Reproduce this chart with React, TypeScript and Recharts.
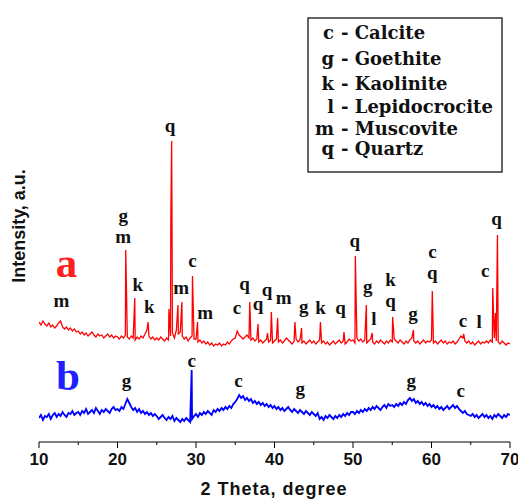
import { ComposedChart, Line, Scatter, XAxis, YAxis } from "recharts";

const SANS = '"Liberation Sans", Arial, sans-serif';
const SERIF = '"Liberation Serif", "Times New Roman", serif';
const WIDE_SERIF = '"DejaVu Serif", serif';

// background counts sampled every 0.25 deg from 10 to 70 deg 2θ
const THETA_START = 10;
const THETA_STEP = 0.25;

const SAMPLE_A_BASE = [
    120, 117, 121, 118, 116, 119, 115, 117, 114, 116, 119, 121, 115, 113, 115, 112, 114, 111, 113, 110,
    111, 108, 110, 107, 109, 106, 108, 110, 107, 105, 108, 106, 107, 104, 106, 108, 105, 107, 104, 106,
    105, 103, 106, 104, 107, 105, 103, 106, 104, 102, 105, 103, 106, 104, 108, 112, 106, 103, 105, 102,
    104, 102, 105, 103, 101, 104, 102, 106, 109, 104, 112, 108, 110, 106, 103, 105, 101, 104, 106, 103,
    103, 100, 102, 99, 101, 98, 100, 97, 99, 96, 98, 97, 99, 96, 98, 97, 100, 98, 101, 103,
    104, 111, 107, 105, 103, 105, 107, 104, 102, 104, 101, 103, 100, 102, 99, 101, 103, 100, 102, 99,
    101, 103, 100, 102, 99, 101, 104, 102, 100, 98, 101, 103, 100, 102, 99, 101, 98, 100, 102, 99,
    101, 98, 100, 102, 99, 101, 98, 100, 97, 99, 101, 98, 100, 102, 99, 101, 98, 100, 103, 101,
    102, 99, 104, 101, 103, 100, 102, 99, 101, 103, 100, 98, 101, 99, 102, 100, 98, 101, 99, 102,
    100, 103, 101, 99, 102, 100, 98, 101, 99, 102, 104, 101, 99, 101, 98, 100, 102, 99, 101, 100,
    102, 99, 101, 98, 100, 102, 99, 101, 98, 100, 99, 101, 98, 100, 103, 106, 104, 101, 99, 101,
    98, 100, 97, 99, 101, 98, 100, 99, 101, 99, 102, 100, 104, 101, 100, 98, 101, 99, 97, 99,
    98,
];

// reflections of sample a: [2θ, intensity]
const SAMPLE_A_PEAKS: [number, number][] = [
    [21.05, 192], [22.2, 144], [23.9, 120], [26.55, 133], [26.8, 228], [26.9, 301],
    [27.7, 137], [28.2, 140], [29.55, 166], [30.2, 120], [36.85, 140], [37.9, 118],
    [39.1, 109], [39.6, 130], [40.4, 124], [42.6, 120], [43.45, 114], [45.85, 120],
    [48.85, 110], [50.3, 186], [50.45, 122], [51.7, 137], [52.45, 109], [55.05, 125],
    [57.7, 112], [60.1, 151], [64.1, 108], [67.8, 154], [68.15, 129], [68.4, 207],
];

const SAMPLE_B_BASE = [
    24, 27, 22, 26, 25, 28, 23, 27, 29, 25, 28, 26, 30, 27, 25, 29, 28, 31, 27, 29,
    30, 27, 31, 29, 33, 28, 30, 32, 29, 34, 31, 28, 32, 30, 33, 31, 29, 33, 35, 32,
    33, 31, 35, 33, 38, 43, 39, 35, 32, 34, 30, 33, 29, 31, 28, 30, 27, 29, 26, 28,
    26, 23, 25, 27, 24, 22, 25, 23, 26, 21, 24, 22, 20, 23, 21, 24, 22, 20, 23, 26,
    28, 25, 29, 27, 30, 28, 31, 29, 27, 32, 30, 33, 31, 34, 32, 35, 33, 36, 34, 38,
    40, 43, 47, 44, 46, 42, 44, 41, 43, 39, 41, 38, 40, 37, 39, 36, 38, 35, 37, 34,
    36, 33, 35, 32, 34, 31, 33, 35, 32, 30, 33, 31, 29, 32, 30, 28, 31, 29, 27, 30,
    28, 26, 29, 23, 25, 22, 26, 24, 27, 25, 23, 26, 24, 27, 25, 28, 26, 29, 27, 30,
    30, 28, 31, 29, 32, 30, 33, 31, 34, 32, 35, 33, 36, 34, 32, 35, 37, 34, 38, 36,
    37, 35, 38, 36, 39, 37, 40, 38, 42, 44, 41, 43, 39, 41, 38, 40, 37, 39, 36, 38,
    35, 37, 34, 36, 33, 35, 32, 34, 36, 33, 35, 37, 34, 36, 33, 31, 29, 31, 28, 27,
    26, 28, 25, 27, 24, 26, 28, 25, 27, 24, 26, 23, 27, 25, 28, 26, 24, 27, 25, 28,
    27,
];

const SAMPLE_B_PEAKS: [number, number][] = [[29.45, 72]];

// phase letters: [2θ, intensity, letter]
const SAMPLE_A_LABELS: [number, number, string][] = [
    [12.86, 135, "m"], [20.73, 220, "g"], [20.73, 199, "m"], [22.57, 151, "k"],
    [24.05, 129, "k"], [26.69, 310, "q"], [28.1, 148, "m"], [29.54, 175, "c"],
    [31.16, 123, "m"], [35.21, 128, "c"], [36.18, 152, "q"], [37.89, 132, "q"],
    [39.04, 146, "q"], [41.16, 138, "m"], [43.72, 129, "g"], [45.85, 128, "k"],
    [48.4, 128, "q"], [50.23, 195, "q"], [51.89, 149, "g"], [52.66, 117, "l"],
    [54.79, 156, "k"], [54.79, 135, "q"], [57.64, 122, "g"], [60.11, 184, "c"],
    [60.11, 163, "q"], [64.02, 115, "c"], [66.07, 114, "l"], [66.83, 165, "c"],
    [68.29, 217, "q"],
];

const SAMPLE_B_LABELS: [number, number, string][] = [
    [21.16, 55, "g"], [29.46, 75, "c"], [35.41, 55, "c"],
    [43.29, 47, "g"], [57.43, 55, "g"], [63.73, 45, "c"],
];

const SAMPLE_TAGS: [number, number, string][] = [
    [13.5, 165, "a"],
    [13.7, 52, "b"],
];

const PHASE_KEYS = ["c", "g", "k", "l", "m", "q"];
const PHASE_NAMES = ["Calcite", "Goethite", "Kaolinite", "Lepidocrocite", "Muscovite", "Quartz"];

const X_TICKS = [10, 15, 20, 25, 30, 35, 40, 45, 50, 55, 60, 65, 70];

const buildTrace = (base: number[], peaks: [number, number][]) => {
    const pts = base.map((y, i) => ({ x: THETA_START + i * THETA_STEP, y }));
    peaks.forEach(([x, y]) => pts.push({ x, y }));
    return pts.sort((a, b) => a.x - b.x);
};

const toPoints = (rows: [number, number, string][]) =>
    rows.map(([x, y, t]) => ({ x, y, t }));

const traceA = buildTrace(SAMPLE_A_BASE, SAMPLE_A_PEAKS);
const traceB = buildTrace(SAMPLE_B_BASE, SAMPLE_B_PEAKS);

function XTick(props: any) {
    const { x, y, payload } = props;
    const major = payload.value % 10 === 0;
    return (
        <g>
            <line x1={x} x2={x} y1={y} y2={y + (major ? 6 : 3)} stroke="#000" />
            {major && (
                <text
                    x={x}
                    y={y + 23}
                    textAnchor="middle"
                    fontFamily={SANS}
                    fontWeight="bold"
                    fontSize={17}
                    fill="#111"
                >
                    {payload.value}
                </text>
            )}
        </g>
    );
}

const letterShape = (props: any) => (
    <text
        x={props.cx}
        y={props.cy}
        textAnchor="middle"
        fontFamily={SERIF}
        fontWeight="bold"
        fontSize={19}
        fill="#111"
    >
        {props.payload.t}
    </text>
);

const tagShape = (color: string) => (props: any) => (
    <text
        x={props.cx}
        y={props.cy}
        textAnchor="middle"
        fontFamily={SERIF}
        fontWeight="bold"
        fontSize={43}
        fill={color}
    >
        {props.payload.t}
    </text>
);

const LEGEND_ROWS = [39, 65, 90, 113, 135, 155];

export default function App() {
    const tags = toPoints(SAMPLE_TAGS);

    return (
        <div style={{ position: "absolute", left: 0, top: 0, width: 518, height: 500, background: "#fff" }}>
            <ComposedChart
                width={518}
                height={500}
                margin={{ top: 7, right: 8, bottom: 0, left: 39 }}
            >
                <XAxis
                    xAxisId="b"
                    type="number"
                    dataKey="x"
                    domain={[10, 70]}
                    ticks={X_TICKS}
                    interval={0}
                    tick={<XTick />}
                    tickLine={false}
                    tickSize={0}
                    tickMargin={0}
                    height={58}
                    axisLine={{ stroke: "#000" }}
                    allowDataOverflow
                />
                <XAxis
                    xAxisId="t"
                    orientation="top"
                    type="number"
                    dataKey="x"
                    domain={[10, 70]}
                    tick={false}
                    tickLine={false}
                    height={0}
                    axisLine={{ stroke: "#000" }}
                />
                <YAxis
                    yAxisId="l"
                    type="number"
                    dataKey="y"
                    domain={[0, 435]}
                    tick={false}
                    tickLine={false}
                    width={0}
                    axisLine={{ stroke: "#000" }}
                    allowDataOverflow
                />
                <YAxis
                    yAxisId="r"
                    orientation="right"
                    type="number"
                    dataKey="y"
                    domain={[0, 435]}
                    tick={false}
                    tickLine={false}
                    width={0}
                    axisLine={{ stroke: "#000" }}
                />
                <Line
                    xAxisId="b"
                    yAxisId="l"
                    data={traceA}
                    dataKey="y"
                    stroke="#ff0000"
                    strokeWidth={1.3}
                    strokeLinejoin="miter"
                    dot={false}
                    isAnimationActive={false}
                />
                <Line
                    xAxisId="b"
                    yAxisId="l"
                    data={traceB}
                    dataKey="y"
                    stroke="#0000ff"
                    strokeWidth={1.8}
                    dot={false}
                    isAnimationActive={false}
                />
                <Scatter
                    xAxisId="b"
                    yAxisId="l"
                    data={toPoints(SAMPLE_A_LABELS)}
                    dataKey="y"
                    shape={letterShape}
                    isAnimationActive={false}
                />
                <Scatter
                    xAxisId="b"
                    yAxisId="l"
                    data={toPoints(SAMPLE_B_LABELS)}
                    dataKey="y"
                    shape={letterShape}
                    isAnimationActive={false}
                />
                <Scatter
                    xAxisId="b"
                    yAxisId="l"
                    data={tags.slice(0, 1)}
                    dataKey="y"
                    shape={tagShape("#ff1f1f")}
                    isAnimationActive={false}
                />
                <Scatter
                    xAxisId="b"
                    yAxisId="l"
                    data={tags.slice(1)}
                    dataKey="y"
                    shape={tagShape("#1f1fff")}
                    isAnimationActive={false}
                />
            </ComposedChart>

            {/* axis titles and phase key */}
            <svg
                width={518}
                height={500}
                style={{ position: "absolute", left: 0, top: 0, pointerEvents: "none" }}
            >
                <text
                    x={25}
                    y={226}
                    transform="rotate(-90 25 226)"
                    textAnchor="middle"
                    fontFamily={SANS}
                    fontWeight="bold"
                    fontSize={18}
                    fill="#111"
                >
                    Intensity, a.u.
                </text>
                <text
                    x={274}
                    y={495}
                    textAnchor="middle"
                    fontFamily={SANS}
                    fontWeight="bold"
                    fontSize={18}
                    letterSpacing={1}
                    fill="#111"
                >
                    2 Theta, degree
                </text>
                <rect x={308} y={18} width={194} height={154} fill="#fff" stroke="#333" strokeWidth={1.5} />
                {PHASE_KEYS.map((k, i) => (
                    <g key={k} fontFamily={WIDE_SERIF} fontWeight="bold" fontSize={18} fill="#111">
                        <text x={334} y={LEGEND_ROWS[i]} textAnchor="end">
                            {k}
                        </text>
                        <text x={341} y={LEGEND_ROWS[i]}>
                            {"- " + PHASE_NAMES[i]}
                        </text>
                    </g>
                ))}
            </svg>
        </div>
    );
}
